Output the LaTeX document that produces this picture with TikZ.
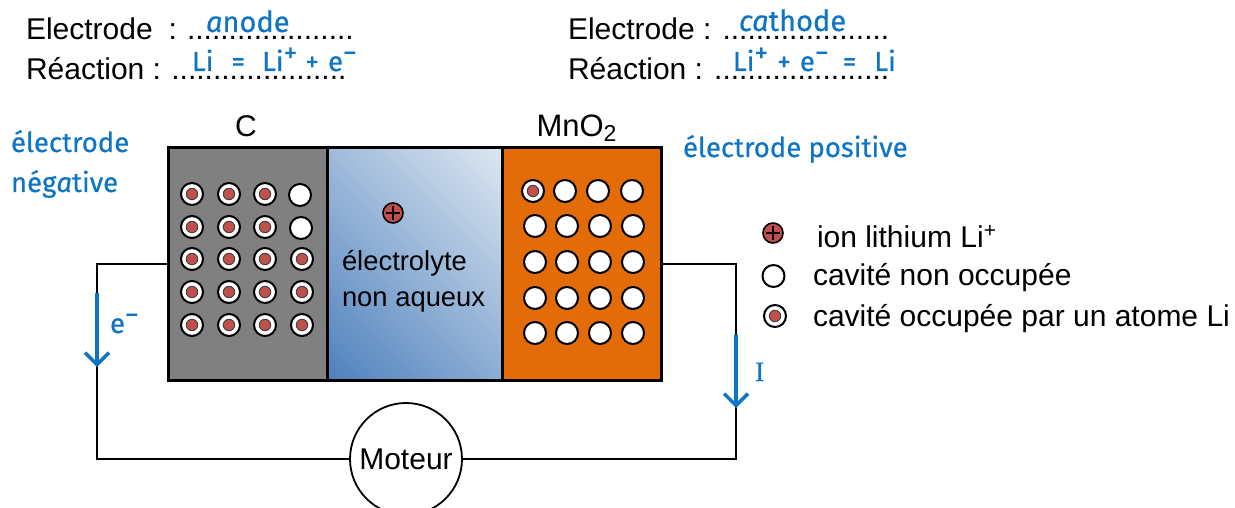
\documentclass[tikz,border=0pt]{standalone}
\usepackage{fontspec}
\setmainfont{Liberation Sans}
\newfontfamily\bluefont[FakeBold=0.5,ItalicFeatures={FakeBold=0.5}]{Fira Sans}
\newfontfamily\blueserif[FakeBold=0.5]{Liberation Serif}
\usetikzlibrary{arrows.meta}
\definecolor{hand}{HTML}{0E74C4}
\definecolor{ionred}{HTML}{C0504D}
\definecolor{cgrey}{HTML}{808080}
\definecolor{mnorange}{HTML}{E36C09}
\definecolor{elecdark}{HTML}{4F81BD}
\definecolor{eleclight}{HTML}{DCE6F1}
\pgfdeclareverticalshading{elecgrad}{100bp}{color(0bp)=(elecdark); color(15bp)=(elecdark); color(85bp)=(eleclight); color(100bp)=(eleclight)}
\tikzset{
  txt/.style={anchor=base west,inner sep=0pt,outer sep=0pt,font=\fontsize{#1}{#1}\selectfont},
  txt/.default=30,
  ctxt/.style={anchor=base,inner sep=0pt,outer sep=0pt,font=\fontsize{30}{30}\selectfont},
  handtxt/.style={anchor=base west,inner sep=0pt,outer sep=0pt,text=hand,font=\bluefont\fontsize{#1}{#1}\selectfont},
  handtxt/.default=27.5,
  wire/.style={draw=black,line width=1.8pt},
  boxcell/.style={draw=black,line width=3pt,rectangle,inner sep=0pt,minimum height=233pt},
  cavity/.style={circle,draw=black,line width=2pt,fill=white,minimum size=22pt,inner sep=0pt},
  atomcore/.style={circle,draw=black!75,line width=.9pt,fill=ionred,minimum size=11.5pt,inner sep=0pt},
  ion/.style={circle,draw=black,line width=1.6pt,fill=ionred,minimum size=20pt,inner sep=0pt},
  flow/.style={draw=hand,line width=4pt,-{Straight Barb[length=12pt,width=24pt,line width=3.5pt]}}
}
\newcommand{\occupied}[3]{\node[cavity] (#1) at (#2,#3) {}; \node[atomcore] (#1-core) at (#2,#3) {};}
\newcommand{\vacant}[3]{\node[cavity] (#1) at (#2,#3) {};}
\newcommand{\lithium}[3]{\node[ion] (#1) at (#2,#3) {};
  \draw[line width=2pt] ([xshift=-7pt]#1.center) -- ([xshift=7pt]#1.center);
  \draw[line width=2pt] ([yshift=-7pt]#1.center) -- ([yshift=7pt]#1.center);}
\newcommand{\up}[1]{\raisebox{9pt}{#1}}
\begin{document}
\begin{tikzpicture}[x=1pt,y=-1pt]
\useasboundingbox (0,0) rectangle (1235,508);
% header
\node[txt] (el1) at (26,40) {Electrode\hspace{16pt}:\hspace{10pt}....................};
\node[txt] (re1) at (26,80) {Réaction :\hspace{10.3pt}.....................};
\node[txt] (el2) at (568,40) {Electrode : ....................};
\node[txt] (re2) at (568,80) {Réaction : .....................};
\node[handtxt=29] (an) at (206,32) {{\itshape a}node};
\node[handtxt=27.5] (eq1) at (192,71) {Li\hspace{18pt}=\hspace{17pt}Li\up{+}\hspace{8pt}+\hspace{9pt}e\up{−}};
\node[handtxt=29] (ca) at (739,31) {{\itshape ca}thode};
\node[handtxt=27.5] (eq2) at (733,71) {Li\up{+}\hspace{9pt}+\hspace{9pt}e\up{−}\hspace{14pt}=\hspace{18pt}Li};
\node[handtxt=27.5] (neg1) at (11,152) {électrode};
\node[handtxt=27.5] (neg2) at (11,192) {nég{\itshape a}tive};
\node[handtxt=27.5] (pos) at (683,157) {électrode positive};
\node[ctxt] (clab) at (246,137) {C};
\node[ctxt,font=\fontsize{31}{31}\selectfont] (mlab) at (576.5,137) {MnO\raisebox{-5pt}{\fontsize{23}{23}\selectfont 2}};
% cells
\node[boxcell,minimum width=159pt,fill=cgrey] (cbox) at (247.5,264) {};
\node[boxcell,minimum width=175pt,shading=elecgrad,shading angle=-45] (elec) at (414.5,264) {};
\node[boxcell,minimum width=159pt,fill=mnorange] (mno) at (581.5,264) {};
\node[txt=27.4] (t1) at (342,270) {électrolyte};
\node[txt=27.4] (t2) at (342,306) {non aqueux};
% carbon lattice
\foreach \col/\x in {1/192,2/229,3/265}{
  \foreach \row/\y in {1/194,2/227,3/259,4/292,5/325}{
    \occupied{c-\col-\row}{\x}{\y}
  }
}
\vacant{c-4-1}{300}{195}
\vacant{c-4-2}{301}{228}
\occupied{c-4-3}{302}{259}
\occupied{c-4-4}{302}{292}
\occupied{c-4-5}{302}{325}
% MnO2 lattice
\occupied{m-1-1}{533}{191}
\foreach \col/\x in {2/565,3/598,4/632}{\vacant{m-\col-1}{\x}{191}}
\foreach \row/\y in {2/226,3/262,4/298,5/333}{
  \foreach \col/\x in {1/535,2/567,3/600,4/633}{\vacant{m-\col-\row}{\x}{\y}}
}
\lithium{i0}{393}{213}
% legend
\lithium{i1}{773}{233}
\node[txt=30] (l1) at (817,247) {ion lithium Li\textsuperscript{+}};
\vacant{l-v}{773.5}{276}
\node[txt=30] (l2) at (813,285) {cavité non occupée};
\occupied{l-o}{775}{316}
\node[txt=30] (l3) at (813,326) {cavité occupée par un atome Li};
% circuit
\node[circle,draw=black,line width=1.8pt,fill=white,minimum size=112pt,inner sep=0pt,font=\fontsize{30}{30}\selectfont] (mot) at (406,459) {Moteur};
\coordinate (wl) at (97,264);
\coordinate (wr) at (736,264);
\draw[wire] (cbox.west) -- (wl) |- (mot.west);
\draw[wire] (mno.east) -- (wr) |- (mot.east);
\coordinate (a1) at (97,293);
\coordinate (a2) at (97,367);
\coordinate (b1) at (736,335);
\coordinate (b2) at (736,408);
\draw[flow] (a1) -- (a2);
\draw[flow] (b1) -- (b2);
\node[handtxt=27.5] (eminus) at (110,333) {e\up{−}};
\node[anchor=base west,inner sep=0pt,outer sep=0pt,text=hand,font=\blueserif\fontsize{28}{28}\selectfont] (ilab) at (755,381) {I};
\end{tikzpicture}
\end{document}
